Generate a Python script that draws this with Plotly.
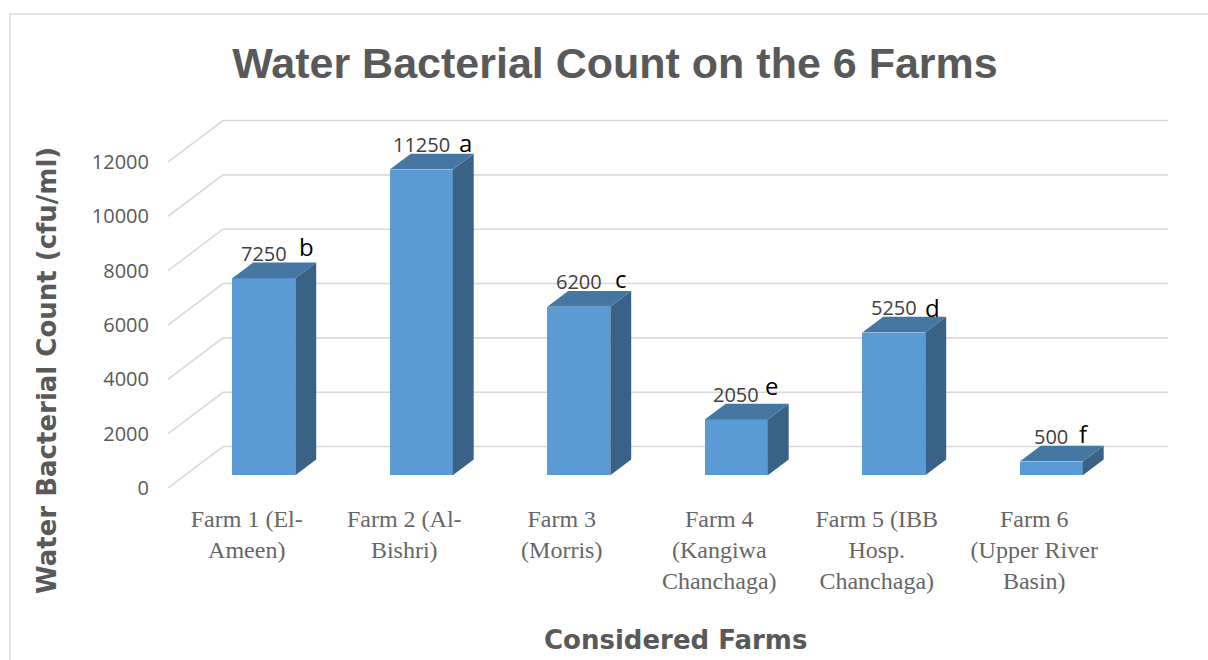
import plotly.graph_objects as go

# Data
farms = [
    "Farm 1 (El-<br>Ameen)",
    "Farm 2 (Al-<br>Bishri)",
    "Farm 3<br>(Morris)",
    "Farm 4<br>(Kangiwa<br>Chanchaga)",
    "Farm 5 (IBB<br>Hosp.<br>Chanchaga)",
    "Farm 6<br>(Upper River<br>Basin)",
]
counts = [7250, 11250, 6200, 2050, 5250, 500]
letters = ["b", "a", "c", "e", "d", "f"]
y_ticks = [0, 2000, 4000, 6000, 8000, 10000, 12000]

# 3D projection settings (x in category units, y in value units)
DX = 0.3492          # depth shift along x for the full floor depth
DY = 1525            # depth shift along y for the full floor depth
F0, F1 = 0.31, 0.69  # front / back depth fraction of each bar
BW = 0.4             # bar width in category units
X_MIN, X_MAX = -0.5, 5.5

FRONT = "#5B9BD5"
TOP = "#4676A2"
SIDE = "#3A6287"
GRID = "#D9D9D9"

# per-label letter offsets (pixels): x from bar centre, y relative to value label
letter_dx = [33, 36, 34, 27, 29, 26]
letter_dy = [16, 11, 12, 18, 9, 12]

fig = go.Figure()

pos = list(range(len(counts)))
front_x = [p + F0 * DX for p in pos]

# front faces
fig.add_trace(go.Bar(
    x=front_x, y=counts, base=[F0 * DY] * len(counts), width=BW,
    marker=dict(color=FRONT, line=dict(width=0)),
    hoverinfo="skip", showlegend=False,
))

# side and top faces
for cx, v in zip(front_x, counts):
    xl, xr = cx - BW / 2, cx + BW / 2
    ddx, ddy = (F1 - F0) * DX, (F1 - F0) * DY
    yb, yt = F0 * DY, F0 * DY + v
    fig.add_trace(go.Scatter(
        x=[xr, xr + ddx, xr + ddx, xr, xr],
        y=[yb, yb + ddy, yt + ddy, yt, yb],
        fill="toself", fillcolor=SIDE, mode="lines",
        line=dict(width=0, color=SIDE), hoverinfo="skip", showlegend=False,
    ))
    fig.add_trace(go.Scatter(
        x=[xl, xr, xr + ddx, xl + ddx, xl],
        y=[yt, yt, yt + ddy, yt + ddy, yt],
        fill="toself", fillcolor=TOP, mode="lines",
        line=dict(width=0, color=TOP), hoverinfo="skip", showlegend=False,
    ))

# slanted gridlines on the floor edge and back wall
shapes = []
for v in y_ticks:
    shapes.append(dict(
        type="path", xref="x", yref="y", layer="below",
        path=f"M {X_MIN},{v} L {X_MIN + DX},{v + DY} L {X_MAX + DX},{v + DY}",
        line=dict(color=GRID, width=1.6),
    ))
# chart border
shapes.append(dict(
    type="rect", xref="paper", yref="paper",
    x0=(10 - 168) / 1000, x1=1.2, y0=-0.6, y1=(660 - 14 - 172) / 378,
    line=dict(color="#D9D9D9", width=1.5), layer="below",
))

annotations = []
for i, (cx, v) in enumerate(zip(front_x, counts)):
    yt = v + F1 * DY
    annotations.append(dict(
        x=cx, y=yt, xref="x", yref="y", text=str(v), showarrow=False,
        xanchor="center", yanchor="middle", yshift=9,
        font=dict(family="Open Sans", size=20, color="#404040"),
    ))
    annotations.append(dict(
        x=cx, y=yt, xref="x", yref="y", text=letters[i], showarrow=False,
        xanchor="left", yanchor="middle", xshift=letter_dx[i], yshift=letter_dy[i],
        font=dict(family="Open Sans", size=24, color="#000000"),
    ))

# axis titles (positions in figure pixels, converted below)
annotations.append(dict(
    x=47, y=371, xref="paper", yref="paper",
    text="Water Bacterial Count (cfu/ml)", showarrow=False, textangle=-90,
    xanchor="center", yanchor="middle",
    font=dict(family="DejaVu Sans", size=26, color="#595959", weight="bold"),
))
annotations.append(dict(
    x=675, y=640, xref="paper", yref="paper",
    text="Considered Farms", showarrow=False,
    xanchor="center", yanchor="middle",
    font=dict(family="DejaVu Sans", size=26, color="#595959", weight="bold"),
))

# translate pixel positions into the plot-area paper frame
for a in annotations:
    if a["xref"] == "paper":
        a["x"] = (a["x"] - 168) / 1000
        a["y"] = (660 - a["y"] - 172) / 378

fig.update_layout(
    width=1208, height=660,
    margin=dict(l=168, r=40, t=110, b=172),
    paper_bgcolor="white", plot_bgcolor="white",
    title=dict(
        text="Water Bacterial Count on the 6 Farms",
        x=615 / 1208, xanchor="center", y=1 - 63 / 660, yanchor="middle",
        font=dict(family="Liberation Sans", size=43, color="#595959", weight="bold"),
    ),
    xaxis=dict(
        range=[X_MIN, X_MIN + 1000 / 157.5], showgrid=False, zeroline=False,
        showline=False, tickmode="array", tickvals=pos, ticktext=farms,
        ticks="", ticklabelstandoff=14,
        tickfont=dict(family="Liberation Serif", size=24, color="#666666"),
        fixedrange=True,
    ),
    yaxis=dict(
        range=[0, 378 / 0.027167], showgrid=False, zeroline=False,
        showline=False, tickmode="array", tickvals=y_ticks,
        ticktext=[str(t) for t in y_ticks], ticks="", ticklabelstandoff=18,
        tickfont=dict(family="Open Sans", size=20, color="#595959"),
        fixedrange=True,
    ),
    shapes=shapes,
    annotations=annotations,
    bargap=0,
)

fig.write_html("out.html")
